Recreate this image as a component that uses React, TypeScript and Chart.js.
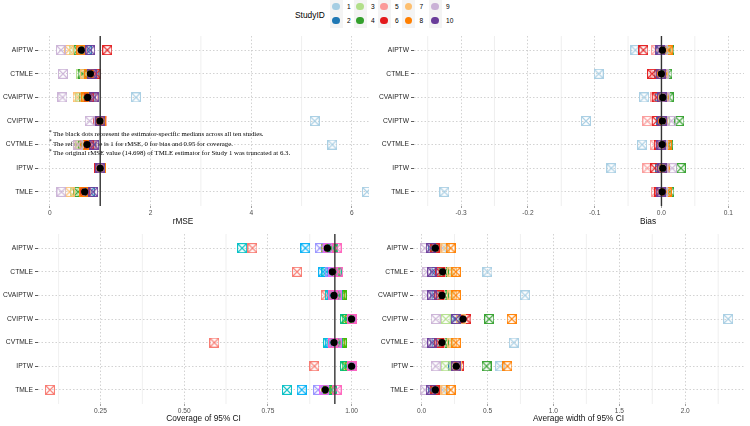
import React, { useEffect, useRef } from 'react';
import { Chart, registerables } from 'chart.js';

Chart.register(...registerables);
Chart.defaults.font.family = '"Liberation Sans", Arial, sans-serif';

document.body.style.margin = '0';

// ---------------- DATA ----------------
const estimators = ['AIPTW', 'CTMLE', 'CVAIPTW', 'CVIPTW', 'CVTMLE', 'IPTW', 'TMLE'];
const studyIds = ['1', '2', '3', '4', '5', '6', '7', '8', '9', '10'];

const pairedColors = ['#A6CEE3', '#1F78B4', '#B2DF8A', '#33A02C', '#FB9A99', '#E31A1C', '#FDBF6F', '#FF7F00', '#CAB2D6', '#6A3D9A'];
const hueColors = ['#F8766D', '#D89000', '#A3A500', '#39B600', '#00BF7D', '#00BFC4', '#00B0F6', '#9590FF', '#E76BF3', '#FF62BC'];

// rows: estimators, columns: studies 1..10
const rmseValues = [
  [0.66, 0.74, 0.47, 0.55, 0.63, 1.14, 0.38, 0.62, 0.22, 0.8],
  [0.85, 0.88, 0.62, 0.65, 0.9, 0.92, 0.7, 0.78, 0.26, 0.83],
  [1.71, 0.82, 0.6, 0.68, 0.86, 0.78, 0.55, 0.72, 0.25, 0.88],
  [5.26, 1.02, 0.97, 0.98, 1.04, 0.96, 0.99, 1.01, 0.79, 1.0],
  [5.61, 0.82, 0.6, 0.66, 0.84, 0.78, 0.55, 0.7, 0.56, 0.88],
  [1.0, 1.01, 0.99, 1.0, 1.02, 0.98, 1.0, 1.01, 0.99, 1.0],
  [6.3, 0.8, 0.5, 0.56, 0.72, 0.7, 0.39, 0.68, 0.23, 0.86],
];
const biasValues = [
  [-0.039, 0.0, 0.005, 0.012, -0.008, -0.027, 0.008, 0.01, 0.003, -0.002],
  [-0.094, -0.003, 0.004, 0.009, -0.01, -0.014, 0.002, 0.001, 0.004, -0.001],
  [-0.026, -0.002, 0.006, 0.011, -0.009, -0.007, 0.003, 0.004, 0.005, 0.001],
  [-0.113, 0.0, 0.005, 0.027, -0.021, -0.007, 0.002, 0.003, 0.015, 0.001],
  [-0.029, 0.0, 0.006, 0.01, -0.01, -0.004, 0.004, 0.008, 0.002, -0.001],
  [-0.075, -0.002, 0.003, 0.029, -0.021, -0.01, 0.004, 0.005, 0.016, 0.001],
  [-0.325, 0.0, 0.006, 0.012, -0.008, -0.003, 0.009, 0.008, 0.002, -0.001],
];
const coverageValues = [
  [0.704, 0.935, 0.925, 0.94, 0.945, 0.673, 0.862, 0.905, 0.93, 0.955],
  [0.837, 0.94, 0.95, 0.945, 0.955, 0.925, 0.915, 0.935, 0.945, 0.96],
  [0.923, 0.95, 0.965, 0.97, 0.96, 0.935, 0.94, 0.945, 0.955, 0.945],
  [1.0, 1.0, 0.995, 0.985, 0.98, 1.0, 1.0, 1.0, 1.0, 1.0],
  [0.59, 0.95, 0.965, 0.97, 0.96, 0.93, 0.935, 0.945, 0.955, 0.945],
  [0.889, 1.0, 0.995, 0.985, 0.98, 1.0, 1.0, 1.0, 1.0, 1.0],
  [0.099, 0.935, 0.925, 0.93, 0.94, 0.807, 0.851, 0.9, 0.918, 0.955],
];
const widthValues = [
  [0.16, 0.09, 0.1, 0.11, 0.115, 0.1, 0.18, 0.22, 0.025, 0.07],
  [0.5, 0.1, 0.2, 0.17, 0.15, 0.14, 0.23, 0.26, 0.04, 0.08],
  [0.785, 0.1, 0.2, 0.17, 0.14, 0.13, 0.23, 0.26, 0.04, 0.08],
  [2.326, 0.25, 0.183, 0.513, 0.33, 0.34, 0.3, 0.684, 0.107, 0.26],
  [0.7, 0.1, 0.2, 0.17, 0.14, 0.13, 0.23, 0.26, 0.04, 0.08],
  [0.596, 0.24, 0.183, 0.493, 0.262, 0.285, 0.265, 0.651, 0.107, 0.26],
  [0.16, 0.09, 0.1, 0.11, 0.115, 0.1, 0.18, 0.22, 0.025, 0.07],
];

const rmseTicks = [0, 2, 4, 6];
const rmseTickLabels = ['0', '2', '4', '6'];
const rmseMinor = [1, 3, 5];
const biasTicks = [-0.3, -0.2, -0.1, 0, 0.1];
const biasTickLabels = ['-0.3', '-0.2', '-0.1', '0.0', '0.1'];
const biasMinor = [-0.35, -0.25, -0.15, -0.05, 0.05];
const coverageTicks = [0.25, 0.5, 0.75, 1.0];
const coverageTickLabels = ['0.25', '0.50', '0.75', '1.00'];
const coverageMinor = [0.125, 0.375, 0.625, 0.875];
const widthTicks = [0, 0.5, 1, 1.5, 2];
const widthTickLabels = ['0.0', '0.5', '1.0', '1.5', '2.0'];
const widthMinor = [0.25, 0.75, 1.25, 1.75, 2.25];

const noteLines = [
  'The black dots represent the estimator-specific medians across all ten studies.',
  'The reference line is 1 for rMSE, 0 for bias and 0.95 for coverage.',
  'The original rMSE value (14.698) of TMLE estimator for Study 1 was truncated at 6.3.',
];

// ---------------- HELPERS ----------------
function median(arr: number[]): number {
  const s = [...arr].sort((a, b) => a - b);
  const m = Math.floor(s.length / 2);
  return s.length % 2 ? s[m] : (s[m - 1] + s[m]) / 2;
}

const markerCache: Record<string, HTMLCanvasElement> = {};
function marker(color: string): HTMLCanvasElement {
  if (markerCache[color]) return markerCache[color];
  const c = document.createElement('canvas');
  c.width = 10;
  c.height = 10;
  const g = c.getContext('2d')!;
  g.globalAlpha = 0.95;
  g.strokeStyle = color;
  g.lineWidth = 1.1;
  g.strokeRect(0.5, 0.5, 9, 9);
  g.beginPath();
  g.moveTo(1, 1);
  g.lineTo(9, 9);
  g.moveTo(9, 1);
  g.lineTo(1, 9);
  g.stroke();
  markerCache[color] = c;
  return c;
}

type Panel = {
  values: number[][];
  colors: string[];
  min: number;
  max: number;
  ticks: number[];
  tickLabels: string[];
  minor: number[];
  title: string;
  titleX: number | null;
  refLine: number | null;
  note: boolean;
  left: number;
  top: number;
  padTop: number;
  padRight: number;
  yAxisW: number;
  axisH: number;
  titlePad: number;
};

const decorPlugin = {
  id: 'panelDecor',
  beforeDatasetsDraw(chart: any, _args: any, opts: any) {
    const { ctx, chartArea } = chart;
    const xs = chart.scales.x;
    const ys = chart.scales.y;
    ctx.save();
    ctx.strokeStyle = '#EBEBEB';
    ctx.lineWidth = 0.8;
    (opts.minor || []).forEach((v: number) => {
      const px = xs.getPixelForValue(v);
      ctx.beginPath();
      ctx.moveTo(px, chartArea.top);
      ctx.lineTo(px, chartArea.bottom);
      ctx.stroke();
    });
    if (opts.note) {
      ctx.fillStyle = '#000';
      ctx.textBaseline = 'middle';
      const x0 = xs.getPixelForValue(0);
      noteLines.forEach((t: string, i: number) => {
        const py = ys.getPixelForValue(3.57 + i * 0.4);
        ctx.font = '5.2px "Liberation Serif", "DejaVu Serif", serif';
        ctx.fillText('*', x0 - 1, py - 2);
        ctx.font = '6.8px "Liberation Serif", "DejaVu Serif", serif';
        ctx.fillText(t, x0 + 3, py);
      });
    }
    ctx.restore();
  },
  beforeDatasetDraw(chart: any, args: any, opts: any) {
    if (args.index !== 10 || opts.refLine == null) return;
    const { ctx, chartArea } = chart;
    const px = chart.scales.x.getPixelForValue(opts.refLine);
    ctx.save();
    ctx.strokeStyle = '#333333';
    ctx.lineWidth = 1.4;
    ctx.beginPath();
    ctx.moveTo(px, chartArea.top);
    ctx.lineTo(px, chartArea.bottom);
    ctx.stroke();
    ctx.restore();
  },
  afterDraw(chart: any, _args: any, opts: any) {
    if (opts.titleX == null) return;
    const { ctx } = chart;
    ctx.save();
    ctx.font = '8.3px "Liberation Sans", Arial, sans-serif';
    ctx.fillStyle = '#111';
    ctx.textAlign = 'center';
    ctx.textBaseline = 'middle';
    ctx.fillText(opts.title, opts.titleX, chart.height - 6);
    ctx.restore();
  },
};

function buildConfig(p: Panel): any {
  const datasets: any[] = studyIds.map((id, s) => ({
    label: 'Study ' + id,
    data: estimators.map((_, r) => ({ x: p.values[r][s], y: r })),
    pointStyle: marker(p.colors[s]),
    pointRadius: 5,
    showLine: false,
    order: 10 - s,
    clip: 0,
  }));
  datasets.push({
    label: 'Median',
    data: estimators.map((_, r) => ({ x: median(p.values[r]), y: r })),
    pointStyle: 'circle',
    pointRadius: 3.6,
    backgroundColor: '#000',
    borderWidth: 0,
    showLine: false,
    order: 0,
  });
  const gridColor = '#C6C6C6';
  return {
    type: 'scatter',
    data: { datasets },
    options: {
      animation: false,
      responsive: false,
      events: [],
      layout: { padding: { top: p.padTop, right: p.padRight, left: 0, bottom: 0 } },
      plugins: {
        legend: { display: false },
        tooltip: { enabled: false },
        panelDecor: { minor: p.minor, note: p.note, refLine: p.refLine, titleX: p.titleX, title: p.title },
      },
      scales: {
        x: {
          type: 'linear',
          position: 'bottom',
          min: p.min,
          max: p.max,
          afterBuildTicks: (s: any) => {
            s.ticks = p.ticks.map((v) => ({ value: v }));
          },
          afterFit: (s: any) => {
            s.height = p.axisH;
          },
          ticks: {
            callback: (_v: any, i: number) => p.tickLabels[i],
            font: { size: 6.6 },
            color: '#4D4D4D',
            padding: 1,
            maxRotation: 0,
            autoSkip: false,
          },
          grid: { color: gridColor, lineWidth: 0.8, tickLength: 2, tickColor: '#888', drawTicks: true },
          border: { display: false, dash: [1.5, 2] },
          title: {
            display: p.titleX == null,
            text: p.title,
            font: { size: 8.3 },
            color: '#111',
            padding: { top: 0, bottom: p.titlePad },
          },
        },
        y: {
          type: 'linear',
          min: -0.6,
          max: 6.6,
          reverse: true,
          afterBuildTicks: (s: any) => {
            s.ticks = estimators.map((_, i) => ({ value: i }));
          },
          afterFit: (s: any) => {
            s.width = p.yAxisW;
          },
          ticks: {
            callback: (_v: any, i: number) => estimators[i],
            font: { size: 6.7 },
            color: '#262626',
            padding: 2,
            autoSkip: false,
          },
          grid: { color: gridColor, lineWidth: 0.8, tickLength: 3, tickColor: '#333' },
          border: { display: false, dash: [1.5, 2] },
        },
      },
    },
    plugins: [decorPlugin],
  };
}

const panels: Panel[] = [
  {
    values: rmseValues, colors: pairedColors, min: -0.236, max: 6.34,
    ticks: rmseTicks, tickLabels: rmseTickLabels, minor: rmseMinor,
    title: 'rMSE', titleX: 183, refLine: 1, note: true,
    left: 0, top: 30, padTop: 5.5, padRight: 3, yAxisW: 38, axisH: 22, titlePad: 1,
  },
  {
    values: biasValues, colors: pairedColors, min: -0.3705, max: 0.1236,
    ticks: biasTicks, tickLabels: biasTickLabels, minor: biasMinor,
    title: 'Bias', titleX: 273, refLine: 0, note: false,
    left: 375, top: 30, padTop: 5.5, padRight: 3, yAxisW: 39, axisH: 22, titlePad: 1,
  },
  {
    values: coverageValues, colors: hueColors, min: 0.0634, max: 1.052,
    ticks: coverageTicks, tickLabels: coverageTickLabels, minor: coverageMinor,
    title: 'Coverage of 95% CI', titleX: null, refLine: 0.95, note: false,
    left: 0, top: 228, padTop: 6, padRight: 3, yAxisW: 38, axisH: 22, titlePad: 2,
  },
  {
    values: widthValues, colors: pairedColors, min: -0.065, max: 2.446,
    ticks: widthTicks, tickLabels: widthTickLabels, minor: widthMinor,
    title: 'Average width of 95% CI', titleX: null, refLine: null, note: false,
    left: 375, top: 228, padTop: 6, padRight: 3, yAxisW: 38, axisH: 22, titlePad: 2,
  },
];

function PanelChart({ panel }: { panel: Panel }) {
  const ref = useRef<HTMLCanvasElement | null>(null);
  useEffect(() => {
    if (!ref.current) return;
    const chart = new Chart(ref.current, buildConfig(panel));
    return () => chart.destroy();
  }, [panel]);
  return (
    <canvas
      ref={ref}
      width={375}
      height={198}
      style={{ position: 'absolute', left: panel.left, top: panel.top, width: 375, height: 198 }}
    />
  );
}

const legendCols = [336, 360, 384, 408.5, 435];

function Legend() {
  return (
    <>
      <div
        style={{
          position: 'absolute', left: 295, top: 10, fontSize: 8.4, lineHeight: '11px',
          fontFamily: '"Liberation Sans", Arial, sans-serif', color: '#000',
        }}
      >
        StudyID
      </div>
      {studyIds.map((id, k) => {
        const cx = legendCols[Math.floor(k / 2)];
        const cy = k % 2 === 0 ? 6.7 : 20.7;
        return (
          <React.Fragment key={id}>
            <div
              style={{
                position: 'absolute', left: cx - 6.5, top: cy - 7, width: 13, height: 14,
                background: '#F4F4F4',
              }}
            />
            <div
              style={{
                position: 'absolute', left: cx - 3.6, top: cy - 3.6, width: 7.2, height: 7.2,
                borderRadius: '50%', background: pairedColors[k],
              }}
            />
            <div
              style={{
                position: 'absolute', left: cx + 11, top: cy - 5, fontSize: 6.6, lineHeight: '10px',
                fontFamily: '"Liberation Sans", Arial, sans-serif', color: '#000',
              }}
            >
              {id}
            </div>
          </React.Fragment>
        );
      })}
    </>
  );
}

export default function App() {
  return (
    <div style={{ position: 'relative', width: 750, height: 426, background: '#fff', overflow: 'hidden' }}>
      <Legend />
      {panels.map((p, i) => (
        <PanelChart key={i} panel={p} />
      ))}
    </div>
  );
}
